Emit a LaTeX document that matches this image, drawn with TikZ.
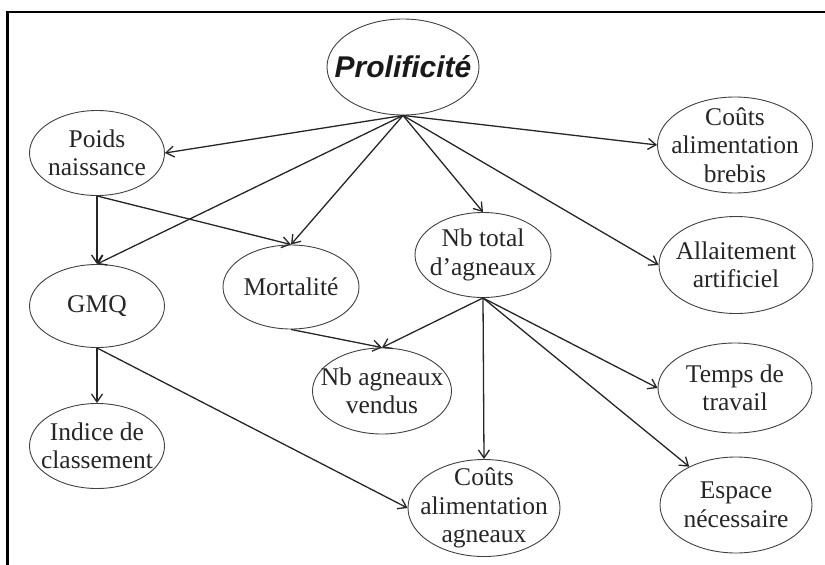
\documentclass[tikz,border=0pt]{standalone}
\usepackage{fontspec}
\setmainfont{Liberation Serif}
\newfontfamily\titrefont{Liberation Sans}
\usetikzlibrary{shapes.geometric,arrows.meta}

\tikzset{
  bulle/.style 2 args={draw=black!75, line width=0.9pt, ellipse, inner sep=0pt, minimum width=#1, minimum height=#2},
  txt/.style={font=\fontsize{25.5}{28.5}\selectfont, align=center, text=black!85},
  titre/.style={font=\titrefont\bfseries\itshape\fontsize{30}{32}\selectfont, text=black!90},
  fleche/.style={-{Straight Barb[length=8pt,width=11pt]}, line width=1.3pt, black!85}
}

\begin{document}
\begin{tikzpicture}[x=1pt, y=-1pt]
			\useasboundingbox (0,0) rectangle (825,565);
			\draw[line width=2.3pt] (7.5,565) -- (7.5,12) -- (825,12);
			% noeuds
			\node[bulle={152}{96}, label={[titre]center:Prolificité}] (prolif) at (403,67) {};
			\node[bulle={135}{85}, label={[txt]center:Poids\\naissance}] (poids) at (97,153) {};
			\node[bulle={135}{83}, label={[txt]center:GMQ}] (gmq) at (97,306) {};
			\node[bulle={135}{85}, label={[txt]center:Indice de\\classement}] (indice) at (97,446) {};
			\node[bulle={136}{84}, label={[txt]center:Mortalité}] (mortal) at (291,287) {};
			\node[bulle={136}{85}, label={[txt]center:Nb total\\d’agneaux}] (nbtotal) at (483,255) {};
			\node[bulle={139}{86}, label={[txt]center:Nb agneaux\\vendus}] (vendus) at (382,391) {};
			\node[bulle={152}{97}, label={[txt]center:Coûts\\alimentation\\agneaux}] (coutsagn) at (484,508) {};
			\node[bulle={155}{96}, label={[txt]center:Coûts\\alimentation\\brebis}] (coutsbreb) at (735,145) {};
			\node[bulle={154}{97}, label={[txt]center:Allaitement\\artificiel}] (allait) at (736,265) {};
			\node[bulle={154}{90}, label={[txt]center:Temps de\\travail}] (temps) at (735,388) {};
			\node[bulle={152}{96}, label={[txt]center:Espace\\nécessaire}] (espace) at (736,505) {};
			% fleches
			\draw[fleche] (prolif.south) -- (poids.east);
			\draw[fleche] (prolif.south) -- (gmq.north);
			\draw[fleche] (prolif.south) -- (mortal.north);
			\draw[fleche] (prolif.south) -- (nbtotal.north);
			\draw[fleche] (prolif.south) -- (coutsbreb.west);
			\draw[fleche] (prolif.south) -- (allait.west);
			\draw[fleche] (poids.south) -- (gmq.north);
			\draw[fleche] (poids.south) -- (mortal.north);
			\draw[fleche] (gmq.south) -- (indice.north);
			\draw[fleche] (gmq.south) -- (coutsagn.west);
			\draw[fleche] (mortal.south) -- (vendus.north);
			\draw[fleche] (nbtotal.south) -- (vendus.north);
			\draw[fleche] (nbtotal.south) -- (coutsagn.north);
			\draw[fleche] (nbtotal.south) -- (temps.west);
			\draw[fleche] (nbtotal.south) -- (espace);
		\end{tikzpicture}
\end{document}
